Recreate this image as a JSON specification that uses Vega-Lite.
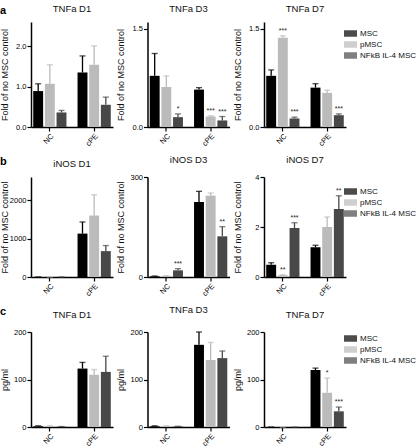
{
  "$schema": "https://vega.github.io/schema/vega-lite/v6.json",
  "padding": {"left": 0, "top": 3, "right": 0, "bottom": 0},
  "background": "white",
  "config": {
    "font": "Liberation Sans",
    "view": {"stroke": null},
    "axis": {"grid": false, "domainColor": "#000", "domainWidth": 1.5, "tickColor": "#000", "tickWidth": 1.2, "tickSize": 4, "labelFontSize": 7.5, "labelColor": "#000", "titleFontSize": 9, "titleFontWeight": "normal", "titleColor": "#111", "labelPadding": 1, "titlePadding": 0, "labelOverlap": false, "labelFlush": false},
    "axisY": {"labelFontSize": 7.5, "minExtent": 22, "maxExtent": 22},
    "axisX": {"labelAngle": -45, "title": null},
    "title": {"fontSize": 9.5, "fontWeight": "normal", "offset": 9, "color": "#111"},
    "legend": {"padding": 0, "offset": 0},
    "concat": {"spacing": 3.5}
  },
  "datasets": {
    "d": [
      {"row": "a", "panel": "TNFa D1", "cond": "NC", "group": "MSC", "mean": 0.89, "upper": 1.07, "sig": ""},
      {"row": "a", "panel": "TNFa D1", "cond": "NC", "group": "pMSC", "mean": 1.07, "upper": 1.54, "sig": ""},
      {"row": "a", "panel": "TNFa D1", "cond": "NC", "group": "NFkB IL-4 MSC", "mean": 0.36, "upper": 0.41, "sig": ""},
      {"row": "a", "panel": "TNFa D1", "cond": "cPE", "group": "MSC", "mean": 1.35, "upper": 1.76, "sig": ""},
      {"row": "a", "panel": "TNFa D1", "cond": "cPE", "group": "pMSC", "mean": 1.54, "upper": 2.01, "sig": ""},
      {"row": "a", "panel": "TNFa D1", "cond": "cPE", "group": "NFkB IL-4 MSC", "mean": 0.55, "upper": 0.74, "sig": ""},
      {"row": "a", "panel": "TNFa D3", "cond": "NC", "group": "MSC", "mean": 0.78, "upper": 1.12, "sig": ""},
      {"row": "a", "panel": "TNFa D3", "cond": "NC", "group": "pMSC", "mean": 0.61, "upper": 0.78, "sig": ""},
      {"row": "a", "panel": "TNFa D3", "cond": "NC", "group": "NFkB IL-4 MSC", "mean": 0.15, "upper": 0.2, "sig": "*"},
      {"row": "a", "panel": "TNFa D3", "cond": "cPE", "group": "MSC", "mean": 0.57, "upper": 0.6, "sig": ""},
      {"row": "a", "panel": "TNFa D3", "cond": "cPE", "group": "pMSC", "mean": 0.16, "upper": 0.17, "sig": "***"},
      {"row": "a", "panel": "TNFa D3", "cond": "cPE", "group": "NFkB IL-4 MSC", "mean": 0.1, "upper": 0.16, "sig": "***"},
      {"row": "a", "panel": "TNFa D7", "cond": "NC", "group": "MSC", "mean": 0.78, "upper": 0.87, "sig": ""},
      {"row": "a", "panel": "TNFa D7", "cond": "NC", "group": "pMSC", "mean": 1.36, "upper": 1.39, "sig": "***"},
      {"row": "a", "panel": "TNFa D7", "cond": "NC", "group": "NFkB IL-4 MSC", "mean": 0.13, "upper": 0.15, "sig": "***"},
      {"row": "a", "panel": "TNFa D7", "cond": "cPE", "group": "MSC", "mean": 0.6, "upper": 0.66, "sig": ""},
      {"row": "a", "panel": "TNFa D7", "cond": "cPE", "group": "pMSC", "mean": 0.52, "upper": 0.56, "sig": ""},
      {"row": "a", "panel": "TNFa D7", "cond": "cPE", "group": "NFkB IL-4 MSC", "mean": 0.18, "upper": 0.2, "sig": "***"},
      {"row": "b", "panel": "iNOS D1", "cond": "NC", "group": "MSC", "mean": 1, "upper": 2, "sig": ""},
      {"row": "b", "panel": "iNOS D1", "cond": "NC", "group": "pMSC", "mean": 1, "upper": 2, "sig": ""},
      {"row": "b", "panel": "iNOS D1", "cond": "NC", "group": "NFkB IL-4 MSC", "mean": 1, "upper": 2, "sig": ""},
      {"row": "b", "panel": "iNOS D1", "cond": "cPE", "group": "MSC", "mean": 1128, "upper": 1431, "sig": ""},
      {"row": "b", "panel": "iNOS D1", "cond": "cPE", "group": "pMSC", "mean": 1599, "upper": 2138, "sig": ""},
      {"row": "b", "panel": "iNOS D1", "cond": "cPE", "group": "NFkB IL-4 MSC", "mean": 673, "upper": 817, "sig": ""},
      {"row": "b", "panel": "iNOS D3", "cond": "NC", "group": "MSC", "mean": 2, "upper": 3, "sig": ""},
      {"row": "b", "panel": "iNOS D3", "cond": "NC", "group": "pMSC", "mean": 2, "upper": 4, "sig": ""},
      {"row": "b", "panel": "iNOS D3", "cond": "NC", "group": "NFkB IL-4 MSC", "mean": 20, "upper": 25, "sig": "***"},
      {"row": "b", "panel": "iNOS D3", "cond": "cPE", "group": "MSC", "mean": 225, "upper": 257, "sig": ""},
      {"row": "b", "panel": "iNOS D3", "cond": "cPE", "group": "pMSC", "mean": 244, "upper": 252, "sig": ""},
      {"row": "b", "panel": "iNOS D3", "cond": "cPE", "group": "NFkB IL-4 MSC", "mean": 122, "upper": 151, "sig": "**"},
      {"row": "b", "panel": "iNOS D7", "cond": "NC", "group": "MSC", "mean": 0.49, "upper": 0.57, "sig": ""},
      {"row": "b", "panel": "iNOS D7", "cond": "NC", "group": "pMSC", "mean": 0.07, "upper": 0.09, "sig": "**"},
      {"row": "b", "panel": "iNOS D7", "cond": "NC", "group": "NFkB IL-4 MSC", "mean": 1.96, "upper": 2.17, "sig": "***"},
      {"row": "b", "panel": "iNOS D7", "cond": "cPE", "group": "MSC", "mean": 1.19, "upper": 1.27, "sig": ""},
      {"row": "b", "panel": "iNOS D7", "cond": "cPE", "group": "pMSC", "mean": 2.0, "upper": 2.4, "sig": ""},
      {"row": "b", "panel": "iNOS D7", "cond": "cPE", "group": "NFkB IL-4 MSC", "mean": 2.72, "upper": 3.25, "sig": "**"},
      {"row": "c", "panel": "TNFa D1", "cond": "NC", "group": "MSC", "mean": 1.5, "upper": 2.5, "sig": ""},
      {"row": "c", "panel": "TNFa D1", "cond": "NC", "group": "pMSC", "mean": 1.5, "upper": 2.5, "sig": ""},
      {"row": "c", "panel": "TNFa D1", "cond": "NC", "group": "NFkB IL-4 MSC", "mean": 0.5, "upper": 1, "sig": ""},
      {"row": "c", "panel": "TNFa D1", "cond": "cPE", "group": "MSC", "mean": 123, "upper": 136, "sig": ""},
      {"row": "c", "panel": "TNFa D1", "cond": "cPE", "group": "pMSC", "mean": 110, "upper": 121, "sig": ""},
      {"row": "c", "panel": "TNFa D1", "cond": "cPE", "group": "NFkB IL-4 MSC", "mean": 116, "upper": 149, "sig": ""},
      {"row": "c", "panel": "TNFa D3", "cond": "NC", "group": "MSC", "mean": 1.5, "upper": 2.5, "sig": ""},
      {"row": "c", "panel": "TNFa D3", "cond": "NC", "group": "pMSC", "mean": 1.5, "upper": 2.5, "sig": ""},
      {"row": "c", "panel": "TNFa D3", "cond": "NC", "group": "NFkB IL-4 MSC", "mean": 1, "upper": 1.5, "sig": ""},
      {"row": "c", "panel": "TNFa D3", "cond": "cPE", "group": "MSC", "mean": 173, "upper": 200, "sig": ""},
      {"row": "c", "panel": "TNFa D3", "cond": "cPE", "group": "pMSC", "mean": 141, "upper": 178, "sig": ""},
      {"row": "c", "panel": "TNFa D3", "cond": "cPE", "group": "NFkB IL-4 MSC", "mean": 145, "upper": 160, "sig": ""},
      {"row": "c", "panel": "TNFa D7", "cond": "NC", "group": "MSC", "mean": 0, "upper": 0, "sig": ""},
      {"row": "c", "panel": "TNFa D7", "cond": "NC", "group": "pMSC", "mean": 0, "upper": 0, "sig": ""},
      {"row": "c", "panel": "TNFa D7", "cond": "NC", "group": "NFkB IL-4 MSC", "mean": 0, "upper": 0, "sig": ""},
      {"row": "c", "panel": "TNFa D7", "cond": "cPE", "group": "MSC", "mean": 120, "upper": 124, "sig": ""},
      {"row": "c", "panel": "TNFa D7", "cond": "cPE", "group": "pMSC", "mean": 72, "upper": 103, "sig": "*"},
      {"row": "c", "panel": "TNFa D7", "cond": "cPE", "group": "NFkB IL-4 MSC", "mean": 33, "upper": 42, "sig": "***"}
    ]
  },
  "spacing": 6,
  "resolve": {"scale": {"color": "independent"}},
  "vconcat": [
    {
      "title": {"text": "a", "anchor": "start", "fontSize": 11, "fontWeight": "bold", "offset": -12, "color": "#000"},
      "resolve": {"scale": {"color": "independent", "y": "independent"}},
      "hconcat": [
        {
          "width": 82, "height": 105, "title": {"text": "TNFa D1", "fontWeight": "normal"},
          "data": {"name": "d"},
          "transform": [{"filter": "datum.row == 'a' && datum.panel == 'TNFa D1'"}],
          "encoding": {
            "x": {"field": "cond", "type": "nominal", "sort": ["NC", "cPE"], "scale": {"paddingInner": 0.25, "paddingOuter": 0.05}},
            "xOffset": {"field": "group", "type": "nominal", "sort": ["MSC", "pMSC", "NFkB IL-4 MSC"], "scale": {"paddingInner": 0.15}},
            "color": {"field": "group", "type": "nominal", "scale": {"domain": ["MSC", "pMSC", "NFkB IL-4 MSC"], "range": ["#000000", "#bbbbbb", "#484848"]}, "legend": null}
          },
          "layer": [
            {"mark": {"type": "bar"}, "encoding": {"y": {"field": "mean", "type": "quantitative", "scale": {"domain": [0, 2.5]}, "axis": {"values": [0, 0.5, 1, 1.5, 2, 2.5], "format": ".1f", "title": "Fold of no MSC control"}}}},
            {"mark": {"type": "rule", "strokeWidth": 1.3}, "encoding": {"y": {"field": "mean", "type": "quantitative"}, "y2": {"field": "upper"}}},
            {"mark": {"type": "tick", "thickness": 1.3, "size": 6}, "encoding": {"y": {"field": "upper", "type": "quantitative"}}},
            {"mark": {"type": "text", "fontSize": 7, "baseline": "alphabetic", "dy": -3}, "encoding": {"y": {"field": "upper", "type": "quantitative"}, "text": {"field": "sig"}, "color": {"value": "#222"}}}
          ]
        },
        {
          "width": 82, "height": 105, "title": {"text": "TNFa D3", "fontWeight": "normal"},
          "data": {"name": "d"},
          "transform": [{"filter": "datum.row == 'a' && datum.panel == 'TNFa D3'"}],
          "encoding": {
            "x": {"field": "cond", "type": "nominal", "sort": ["NC", "cPE"], "scale": {"paddingInner": 0.25, "paddingOuter": 0.05}},
            "xOffset": {"field": "group", "type": "nominal", "sort": ["MSC", "pMSC", "NFkB IL-4 MSC"], "scale": {"paddingInner": 0.15}},
            "color": {"field": "group", "type": "nominal", "scale": {"domain": ["MSC", "pMSC", "NFkB IL-4 MSC"], "range": ["#000000", "#bbbbbb", "#484848"]}, "legend": null}
          },
          "layer": [
            {"mark": {"type": "bar"}, "encoding": {"y": {"field": "mean", "type": "quantitative", "scale": {"domain": [0, 1.5]}, "axis": {"values": [0, 0.5, 1, 1.5], "format": ".1f", "title": "Fold of no MSC control"}}}},
            {"mark": {"type": "rule", "strokeWidth": 1.3}, "encoding": {"y": {"field": "mean", "type": "quantitative"}, "y2": {"field": "upper"}}},
            {"mark": {"type": "tick", "thickness": 1.3, "size": 6}, "encoding": {"y": {"field": "upper", "type": "quantitative"}}},
            {"mark": {"type": "text", "fontSize": 7, "baseline": "alphabetic", "dy": -3}, "encoding": {"y": {"field": "upper", "type": "quantitative"}, "text": {"field": "sig"}, "color": {"value": "#222"}}}
          ]
        },
        {
          "width": 82, "height": 105, "title": {"text": "TNFa D7", "fontWeight": "normal"},
          "data": {"name": "d"},
          "transform": [{"filter": "datum.row == 'a' && datum.panel == 'TNFa D7'"}],
          "encoding": {
            "x": {"field": "cond", "type": "nominal", "sort": ["NC", "cPE"], "scale": {"paddingInner": 0.25, "paddingOuter": 0.05}},
            "xOffset": {"field": "group", "type": "nominal", "sort": ["MSC", "pMSC", "NFkB IL-4 MSC"], "scale": {"paddingInner": 0.15}},
            "color": {"field": "group", "type": "nominal", "scale": {"domain": ["MSC", "pMSC", "NFkB IL-4 MSC"], "range": ["#000000", "#bbbbbb", "#484848"]}, "legend": {"orient": "none", "legendX": 80, "legendY": 5, "title": null, "symbolType": "M-1,-0.5H1V0.5H-1Z", "symbolSize": 169, "symbolStrokeWidth": 0, "labelFontSize": 8, "labelColor": "#111", "rowPadding": 0, "labelOffset": 3, "padding": 0}}
          },
          "layer": [
            {"mark": {"type": "bar"}, "encoding": {"y": {"field": "mean", "type": "quantitative", "scale": {"domain": [0, 1.5]}, "axis": {"values": [0, 0.5, 1, 1.5], "format": ".1f", "title": "Fold of no MSC control"}}}},
            {"mark": {"type": "rule", "strokeWidth": 1.3}, "encoding": {"y": {"field": "mean", "type": "quantitative"}, "y2": {"field": "upper"}}},
            {"mark": {"type": "tick", "thickness": 1.3, "size": 6}, "encoding": {"y": {"field": "upper", "type": "quantitative"}}},
            {"mark": {"type": "text", "fontSize": 7, "baseline": "alphabetic", "dy": -3}, "encoding": {"y": {"field": "upper", "type": "quantitative"}, "text": {"field": "sig"}, "color": {"value": "#222"}}}
          ]
        }
      ]
    },
    {
      "title": {"text": "b", "anchor": "start", "fontSize": 11, "fontWeight": "bold", "offset": -12, "color": "#000"},
      "resolve": {"scale": {"color": "independent", "y": "independent"}},
      "hconcat": [
        {
          "width": 82, "height": 100, "title": {"text": "iNOS D1", "fontWeight": "normal"},
          "data": {"name": "d"},
          "transform": [{"filter": "datum.row == 'b' && datum.panel == 'iNOS D1'"}],
          "encoding": {
            "x": {"field": "cond", "type": "nominal", "sort": ["NC", "cPE"], "scale": {"paddingInner": 0.25, "paddingOuter": 0.05}},
            "xOffset": {"field": "group", "type": "nominal", "sort": ["MSC", "pMSC", "NFkB IL-4 MSC"], "scale": {"paddingInner": 0.15}},
            "color": {"field": "group", "type": "nominal", "scale": {"domain": ["MSC", "pMSC", "NFkB IL-4 MSC"], "range": ["#000000", "#bbbbbb", "#484848"]}, "legend": null}
          },
          "layer": [
            {"mark": {"type": "bar"}, "encoding": {"y": {"field": "mean", "type": "quantitative", "scale": {"domain": [0, 2500]}, "axis": {"values": [0, 500, 1000, 1500, 2000, 2500], "format": "d", "title": "Fold of no MSC control"}}}},
            {"mark": {"type": "rule", "strokeWidth": 1.3}, "encoding": {"y": {"field": "mean", "type": "quantitative"}, "y2": {"field": "upper"}}},
            {"mark": {"type": "tick", "thickness": 1.3, "size": 6}, "encoding": {"y": {"field": "upper", "type": "quantitative"}}},
            {"mark": {"type": "text", "fontSize": 7, "baseline": "alphabetic", "dy": -3}, "encoding": {"y": {"field": "upper", "type": "quantitative"}, "text": {"field": "sig"}, "color": {"value": "#222"}}}
          ]
        },
        {
          "width": 82, "height": 100, "title": {"text": "iNOS D3", "fontWeight": "normal"},
          "data": {"name": "d"},
          "transform": [{"filter": "datum.row == 'b' && datum.panel == 'iNOS D3'"}],
          "encoding": {
            "x": {"field": "cond", "type": "nominal", "sort": ["NC", "cPE"], "scale": {"paddingInner": 0.25, "paddingOuter": 0.05}},
            "xOffset": {"field": "group", "type": "nominal", "sort": ["MSC", "pMSC", "NFkB IL-4 MSC"], "scale": {"paddingInner": 0.15}},
            "color": {"field": "group", "type": "nominal", "scale": {"domain": ["MSC", "pMSC", "NFkB IL-4 MSC"], "range": ["#000000", "#bbbbbb", "#484848"]}, "legend": null}
          },
          "layer": [
            {"mark": {"type": "bar"}, "encoding": {"y": {"field": "mean", "type": "quantitative", "scale": {"domain": [0, 300]}, "axis": {"values": [0, 100, 200, 300], "format": "d", "title": "Fold of no MSC control"}}}},
            {"mark": {"type": "rule", "strokeWidth": 1.3}, "encoding": {"y": {"field": "mean", "type": "quantitative"}, "y2": {"field": "upper"}}},
            {"mark": {"type": "tick", "thickness": 1.3, "size": 6}, "encoding": {"y": {"field": "upper", "type": "quantitative"}}},
            {"mark": {"type": "text", "fontSize": 7, "baseline": "alphabetic", "dy": -3}, "encoding": {"y": {"field": "upper", "type": "quantitative"}, "text": {"field": "sig"}, "color": {"value": "#222"}}}
          ]
        },
        {
          "width": 82, "height": 100, "title": {"text": "iNOS D7", "fontWeight": "normal"},
          "data": {"name": "d"},
          "transform": [{"filter": "datum.row == 'b' && datum.panel == 'iNOS D7'"}],
          "encoding": {
            "x": {"field": "cond", "type": "nominal", "sort": ["NC", "cPE"], "scale": {"paddingInner": 0.25, "paddingOuter": 0.05}},
            "xOffset": {"field": "group", "type": "nominal", "sort": ["MSC", "pMSC", "NFkB IL-4 MSC"], "scale": {"paddingInner": 0.15}},
            "color": {"field": "group", "type": "nominal", "scale": {"domain": ["MSC", "pMSC", "NFkB IL-4 MSC"], "range": ["#000000", "#bbbbbb", "#484848"]}, "legend": {"orient": "none", "legendX": 80, "legendY": 8, "title": null, "symbolType": "M-1,-0.5H1V0.5H-1Z", "symbolSize": 169, "symbolStrokeWidth": 0, "labelFontSize": 8, "labelColor": "#111", "rowPadding": 0, "labelOffset": 3, "padding": 0}}
          },
          "layer": [
            {"mark": {"type": "bar"}, "encoding": {"y": {"field": "mean", "type": "quantitative", "scale": {"domain": [0, 4]}, "axis": {"values": [0, 1, 2, 3, 4], "format": "d", "title": "Fold of no MSC control"}}}},
            {"mark": {"type": "rule", "strokeWidth": 1.3}, "encoding": {"y": {"field": "mean", "type": "quantitative"}, "y2": {"field": "upper"}}},
            {"mark": {"type": "tick", "thickness": 1.3, "size": 6}, "encoding": {"y": {"field": "upper", "type": "quantitative"}}},
            {"mark": {"type": "text", "fontSize": 7, "baseline": "alphabetic", "dy": -3}, "encoding": {"y": {"field": "upper", "type": "quantitative"}, "text": {"field": "sig"}, "color": {"value": "#222"}}}
          ]
        }
      ]
    },
    {
      "title": {"text": "c", "anchor": "start", "fontSize": 11, "fontWeight": "bold", "offset": -12, "color": "#000"},
      "resolve": {"scale": {"color": "independent", "y": "independent"}},
      "hconcat": [
        {
          "width": 82, "height": 95, "title": {"text": "TNFa D1", "fontWeight": "normal"},
          "data": {"name": "d"},
          "transform": [{"filter": "datum.row == 'c' && datum.panel == 'TNFa D1'"}],
          "encoding": {
            "x": {"field": "cond", "type": "nominal", "sort": ["NC", "cPE"], "scale": {"paddingInner": 0.25, "paddingOuter": 0.05}},
            "xOffset": {"field": "group", "type": "nominal", "sort": ["MSC", "pMSC", "NFkB IL-4 MSC"], "scale": {"paddingInner": 0.15}},
            "color": {"field": "group", "type": "nominal", "scale": {"domain": ["MSC", "pMSC", "NFkB IL-4 MSC"], "range": ["#000000", "#bbbbbb", "#484848"]}, "legend": null}
          },
          "layer": [
            {"mark": {"type": "bar"}, "encoding": {"y": {"field": "mean", "type": "quantitative", "scale": {"domain": [0, 200]}, "axis": {"values": [0, 50, 100, 150, 200], "format": "d", "title": "pg/ml"}}}},
            {"mark": {"type": "rule", "strokeWidth": 1.3}, "encoding": {"y": {"field": "mean", "type": "quantitative"}, "y2": {"field": "upper"}}},
            {"mark": {"type": "tick", "thickness": 1.3, "size": 6}, "encoding": {"y": {"field": "upper", "type": "quantitative"}}},
            {"mark": {"type": "text", "fontSize": 7, "baseline": "alphabetic", "dy": -3}, "encoding": {"y": {"field": "upper", "type": "quantitative"}, "text": {"field": "sig"}, "color": {"value": "#222"}}}
          ]
        },
        {
          "width": 82, "height": 95, "title": {"text": "TNFa D3", "fontWeight": "normal"},
          "data": {"name": "d"},
          "transform": [{"filter": "datum.row == 'c' && datum.panel == 'TNFa D3'"}],
          "encoding": {
            "x": {"field": "cond", "type": "nominal", "sort": ["NC", "cPE"], "scale": {"paddingInner": 0.25, "paddingOuter": 0.05}},
            "xOffset": {"field": "group", "type": "nominal", "sort": ["MSC", "pMSC", "NFkB IL-4 MSC"], "scale": {"paddingInner": 0.15}},
            "color": {"field": "group", "type": "nominal", "scale": {"domain": ["MSC", "pMSC", "NFkB IL-4 MSC"], "range": ["#000000", "#bbbbbb", "#484848"]}, "legend": null}
          },
          "layer": [
            {"mark": {"type": "bar"}, "encoding": {"y": {"field": "mean", "type": "quantitative", "scale": {"domain": [0, 200]}, "axis": {"values": [0, 50, 100, 150, 200], "format": "d", "title": "pg/ml"}}}},
            {"mark": {"type": "rule", "strokeWidth": 1.3}, "encoding": {"y": {"field": "mean", "type": "quantitative"}, "y2": {"field": "upper"}}},
            {"mark": {"type": "tick", "thickness": 1.3, "size": 6}, "encoding": {"y": {"field": "upper", "type": "quantitative"}}},
            {"mark": {"type": "text", "fontSize": 7, "baseline": "alphabetic", "dy": -3}, "encoding": {"y": {"field": "upper", "type": "quantitative"}, "text": {"field": "sig"}, "color": {"value": "#222"}}}
          ]
        },
        {
          "width": 82, "height": 95, "title": {"text": "TNFa D7", "fontWeight": "normal"},
          "data": {"name": "d"},
          "transform": [{"filter": "datum.row == 'c' && datum.panel == 'TNFa D7'"}],
          "encoding": {
            "x": {"field": "cond", "type": "nominal", "sort": ["NC", "cPE"], "scale": {"paddingInner": 0.25, "paddingOuter": 0.05}},
            "xOffset": {"field": "group", "type": "nominal", "sort": ["MSC", "pMSC", "NFkB IL-4 MSC"], "scale": {"paddingInner": 0.15}},
            "color": {"field": "group", "type": "nominal", "scale": {"domain": ["MSC", "pMSC", "NFkB IL-4 MSC"], "range": ["#000000", "#bbbbbb", "#484848"]}, "legend": {"orient": "none", "legendX": 80, "legendY": 0, "title": null, "symbolType": "M-1,-0.5H1V0.5H-1Z", "symbolSize": 169, "symbolStrokeWidth": 0, "labelFontSize": 8, "labelColor": "#111", "rowPadding": 0, "labelOffset": 3, "padding": 0}}
          },
          "layer": [
            {"mark": {"type": "bar"}, "encoding": {"y": {"field": "mean", "type": "quantitative", "scale": {"domain": [0, 200]}, "axis": {"values": [0, 50, 100, 150, 200], "format": "d", "title": "pg/ml"}}}},
            {"mark": {"type": "rule", "strokeWidth": 1.3}, "encoding": {"y": {"field": "mean", "type": "quantitative"}, "y2": {"field": "upper"}}},
            {"mark": {"type": "tick", "thickness": 1.3, "size": 6}, "encoding": {"y": {"field": "upper", "type": "quantitative"}}},
            {"mark": {"type": "text", "fontSize": 7, "baseline": "alphabetic", "dy": -3}, "encoding": {"y": {"field": "upper", "type": "quantitative"}, "text": {"field": "sig"}, "color": {"value": "#222"}}}
          ]
        }
      ]
    }
  ]
}
